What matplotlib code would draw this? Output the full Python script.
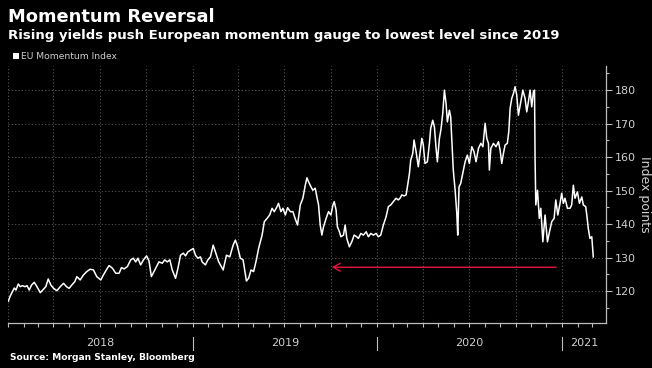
import numpy as np
import pandas as pd
import matplotlib
matplotlib.use("Agg")
import matplotlib.pyplot as plt
import matplotlib.dates as mdates
import matplotlib.transforms as mtransforms
from datetime import datetime, timedelta

# ---------------- data (decimal years / index points) ----------------
dec_years = [
    2018.002, 2018.012, 2018.034, 2018.043, 2018.056, 2018.066, 2018.079, 2018.092, 2018.103, 2018.115,
    2018.128, 2018.142, 2018.155, 2018.175, 2018.188, 2018.205, 2018.218, 2018.232, 2018.247, 2018.265,
    2018.283, 2018.301, 2018.317, 2018.331, 2018.346, 2018.362, 2018.373, 2018.391, 2018.409, 2018.427,
    2018.445, 2018.463, 2018.481, 2018.503, 2018.517, 2018.535, 2018.548, 2018.566, 2018.584, 2018.602,
    2018.615, 2018.629, 2018.647, 2018.665, 2018.679, 2018.692, 2018.704, 2018.719, 2018.734, 2018.751,
    2018.764, 2018.777, 2018.791, 2018.805, 2018.818, 2018.836, 2018.849, 2018.863, 2018.877, 2018.890,
    2018.908, 2018.921, 2018.935, 2018.950, 2018.962, 2018.975, 2018.989, 2019.004, 2019.016, 2019.029,
    2019.043, 2019.052, 2019.070, 2019.083, 2019.097, 2019.112, 2019.124, 2019.142, 2019.166, 2019.184,
    2019.202, 2019.220, 2019.232, 2019.242, 2019.259, 2019.274, 2019.292, 2019.304, 2019.317, 2019.331,
    2019.346, 2019.358, 2019.377, 2019.389, 2019.404, 2019.418, 2019.431, 2019.443, 2019.458, 2019.466,
    2019.479, 2019.490, 2019.503, 2019.515, 2019.530, 2019.544, 2019.557, 2019.569, 2019.584, 2019.598,
    2019.611, 2019.620, 2019.629, 2019.642, 2019.652, 2019.665, 2019.674, 2019.683, 2019.692, 2019.701,
    2019.710, 2019.724, 2019.737, 2019.750, 2019.761, 2019.768, 2019.778, 2019.785, 2019.796, 2019.804,
    2019.818, 2019.827, 2019.836, 2019.850, 2019.863, 2019.876, 2019.890, 2019.899, 2019.912, 2019.926,
    2019.941, 2019.953, 2019.966, 2019.980, 2019.995, 2020.007, 2020.020, 2020.034, 2020.049, 2020.061,
    2020.074, 2020.088, 2020.103, 2020.115, 2020.124, 2020.134, 2020.146, 2020.157, 2020.164, 2020.175,
    2020.182, 2020.193, 2020.200, 2020.211, 2020.223, 2020.232, 2020.242, 2020.250, 2020.259, 2020.272,
    2020.283, 2020.290, 2020.301, 2020.310, 2020.319, 2020.326, 2020.337, 2020.345, 2020.355, 2020.364,
    2020.373, 2020.380, 2020.391, 2020.398, 2020.405, 2020.412, 2020.422, 2020.431, 2020.436, 2020.443,
    2020.452, 2020.463, 2020.476, 2020.488, 2020.499, 2020.512, 2020.524, 2020.535, 2020.548, 2020.561,
    2020.572, 2020.584, 2020.593, 2020.602, 2020.607, 2020.615, 2020.629, 2020.643, 2020.656, 2020.665,
    2020.674, 2020.683, 2020.692, 2020.704, 2020.712, 2020.719, 2020.728, 2020.737, 2020.746, 2020.755,
    2020.764, 2020.777, 2020.788, 2020.800, 2020.809, 2020.818, 2020.827, 2020.836, 2020.845, 2020.851,
    2020.854, 2020.858, 2020.867, 2020.877, 2020.885, 2020.896, 2020.908, 2020.921, 2020.932, 2020.944,
    2020.957, 2020.966, 2020.977, 2020.989, 2020.998, 2021.007, 2021.016, 2021.029, 2021.043, 2021.052,
    2021.061, 2021.070, 2021.083, 2021.094, 2021.107, 2021.115, 2021.128, 2021.134, 2021.142, 2021.151,
    2021.161, 2021.169,
]
index_values = [
    117.0, 118.5, 120.9, 120.3, 122.1, 121.3, 121.6, 121.3, 121.6, 120.3,
    121.8, 122.6, 121.5, 119.5, 120.3, 121.3, 123.6, 121.8, 120.8, 120.1,
    121.3, 122.3, 121.3, 120.8, 121.8, 122.8, 124.3, 123.3, 124.8, 125.8,
    126.5, 126.3, 124.3, 123.3, 124.8, 126.5, 127.6, 126.8, 125.3, 125.3,
    127.0, 126.6, 127.3, 129.3, 129.8, 128.7, 129.8, 127.8, 129.3, 130.5,
    129.0, 124.3, 125.8, 127.3, 128.7, 128.3, 129.3, 128.7, 129.3, 126.3,
    123.8, 126.8, 130.7, 131.3, 130.5, 131.7, 132.2, 132.7, 130.7, 129.8,
    130.2, 128.7, 127.8, 129.3, 130.2, 133.7, 131.7, 128.7, 126.3, 130.7,
    130.2, 133.7, 135.2, 133.7, 129.8, 129.3, 123.0, 123.8, 126.3, 125.8,
    129.3, 132.7, 136.7, 140.7, 141.7, 142.7, 144.7, 143.7, 145.2, 146.2,
    143.7, 144.7, 142.7, 144.9, 143.7, 143.7, 141.5, 139.7, 145.7, 147.7,
    151.6, 153.8, 152.6, 151.1, 150.1, 150.7, 148.1, 145.7, 139.7, 136.7,
    139.2, 141.7, 143.7, 142.7, 145.7, 146.7, 144.2, 139.2, 137.7, 136.2,
    136.7, 139.7, 135.7, 133.2, 134.7, 136.7, 136.2, 135.7, 137.2, 136.7,
    137.7, 136.2, 137.2, 136.7, 137.2, 136.2, 136.7, 139.7, 142.2, 145.2,
    145.7, 146.7, 147.7, 147.2, 147.7, 148.7, 148.4, 148.7, 151.1, 155.1,
    159.1, 161.1, 165.1, 161.6, 157.1, 161.1, 165.6, 163.6, 158.1, 158.6,
    164.1, 168.6, 171.0, 169.0, 162.6, 158.6, 165.6, 168.1, 173.0, 180.0,
    176.0, 170.5, 174.0, 172.0, 164.1, 156.1, 150.1, 143.2, 136.7, 151.1,
    152.1, 155.1, 158.6, 160.6, 158.1, 163.1, 161.6, 158.6, 162.6, 164.1,
    163.1, 170.1, 165.6, 164.1, 156.1, 162.6, 164.1, 163.1, 164.6, 162.1,
    158.1, 161.1, 163.6, 164.1, 167.6, 174.5, 177.5, 179.0, 181.0, 178.5,
    172.5, 176.5, 180.0, 177.5, 173.5, 176.5, 180.0, 175.0, 179.5, 180.0,
    159.6, 145.7, 150.1, 141.7, 144.7, 134.7, 142.7, 134.7, 137.7, 140.7,
    141.7, 147.2, 142.7, 146.2, 149.2, 146.2, 147.7, 144.7, 144.7, 145.7,
    151.6, 147.7, 149.6, 146.2, 148.1, 145.7, 145.2, 142.7, 138.7, 135.7,
    136.2, 130.2,
]
y_ticks = [120, 130, 140, 150, 160, 170, 180]
year_labels = ["2018", "2019", "2020", "2021"]
arrow_level = 127.1
arrow_from = 2020.968
arrow_to = 2019.755

title = "Momentum Reversal"
subtitle = "Rising yields push European momentum gauge to lowest level since 2019"
legend_label = "EU Momentum Index"
y_label = "Index points"
source = "Source: Morgan Stanley, Bloomberg"


def dec_to_dt(d):
    y = int(np.floor(d))
    start = datetime(y, 1, 1)
    days = (datetime(y + 1, 1, 1) - start).days
    return start + timedelta(days=(d - y) * days)


dates = [dec_to_dt(d) for d in dec_years]

# ---------------- figure ----------------
W, H = 652, 368
fig = plt.figure(figsize=(W / 100, H / 100), dpi=100, facecolor="black")
ax = fig.add_axes([8 / W, 1 - 323 / H, (606 - 8) / W, (323 - 66) / H], facecolor="black")

grid_c = "#555555"
txt_c = "#cfcfcf"
spine_c = "#bdbdbd"

ax.plot(dates, index_values, color="white", lw=1.1, solid_joinstyle="round", zorder=3)

xmin = dec_to_dt(2018.0)
xmax = dec_to_dt(2021.238)
ax.set_xlim(xmin, xmax)
ax.set_ylim(110.45, 187.2)

# spines
for s in ["top", "left"]:
    ax.spines[s].set_visible(False)
ax.spines["bottom"].set_color(spine_c)
ax.spines["right"].set_color(spine_c)
ax.spines["bottom"].set_linewidth(0.9)
ax.spines["right"].set_linewidth(0.9)

# y axis on right
ax.yaxis.tick_right()
ax.yaxis.set_label_position("right")
ax.set_yticks(y_ticks)
ax.set_yticks(np.arange(115, 190, 10), minor=True)
ax.tick_params(axis="y", which="major", length=4, width=0.8, color=spine_c,
               labelcolor=txt_c, labelsize=8, pad=2)
ax.tick_params(axis="y", which="minor", length=2.5, width=0.8, color=spine_c)
ax.set_ylabel(y_label, color=txt_c, fontsize=9, rotation=270, labelpad=11)

# x axis: quarter grid, monthly ticks
ax.xaxis.set_major_locator(mdates.MonthLocator(bymonth=[1, 4, 7, 10]))
ax.xaxis.set_minor_locator(mdates.MonthLocator())
ax.xaxis.set_major_formatter(plt.NullFormatter())
ax.tick_params(axis="x", which="both", length=3, width=0.8, color=spine_c)

ax.grid(True, which="major", axis="both", color=grid_c, linestyle=(0, (1, 2)), lw=0.8)
ax.set_axisbelow(True)

# year separators and labels
trans = mtransforms.blended_transform_factory(ax.transData, ax.transAxes)
h_ax = 323 - 66
for yr in [2019, 2020, 2021]:
    xd = mdates.date2num(datetime(yr, 1, 1))
    ax.plot([xd, xd], [-(337 - 323) / h_ax, -(350 - 323) / h_ax], color=spine_c,
            lw=0.8, transform=trans, clip_on=False)
for i, lab in enumerate(year_labels):
    yr = int(lab)
    a = mdates.date2num(max(datetime(yr, 1, 1), xmin))
    b = mdates.date2num(min(datetime(yr + 1, 1, 1), xmax))
    ax.text((a + b) / 2, -(343.5 - 323) / h_ax, lab, transform=trans, ha="center",
            va="center", color=txt_c, fontsize=8)

# red arrow
ax.annotate("", xy=(dec_to_dt(arrow_to), arrow_level), xytext=(dec_to_dt(arrow_from), arrow_level),
            arrowprops=dict(arrowstyle="->,head_length=0.5,head_width=0.28", color="#e3173e",
                            lw=1.0, shrinkA=0, shrinkB=0), zorder=4)

# titles
fig.text(8 / W, 1 - 22 / H, title, color="white", fontsize=12.9, fontweight="bold",
         va="baseline", ha="left")
fig.text(8 / W, 1 - 38.5 / H, subtitle, color="white", fontsize=9.5, fontweight="bold",
         va="baseline", ha="left")
# legend
fig.patches.append(plt.Rectangle((13 / W, 1 - 59 / H), 6 / W, 6 / H, transform=fig.transFigure,
                                 facecolor="white", edgecolor="none"))
fig.text(21 / W, 1 - 59.3 / H, legend_label, color=txt_c, fontsize=6.6, va="baseline", ha="left")
# source
fig.text(10 / W, 1 - 360.3 / H, source, color="white", fontsize=6.6, fontweight="bold",
         va="baseline", ha="left")

fig.savefig("out.png", dpi=100, facecolor="black")
